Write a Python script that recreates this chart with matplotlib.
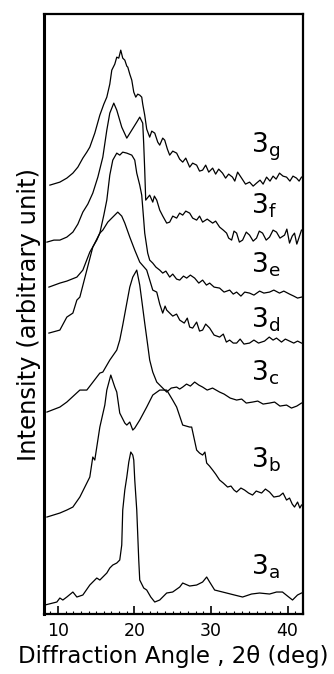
import matplotlib
matplotlib.use("Agg")
import matplotlib.pyplot as plt
from matplotlib.ticker import MultipleLocator

# diffraction angle 2theta (deg) and intensity (arbitrary, curves already stacked)
tt_g = [8.96, 10.26, 11.17, 11.96, 12.61, 13.26, 13.78, 14.17, 14.82, 15.48, 16.0, 16.39,
        16.78, 17.04, 17.43, 17.69, 17.95, 18.21, 18.47, 18.74, 19.0, 19.13, 19.39, 19.65,
        19.91, 20.17, 20.43, 20.69, 20.95, 21.08, 21.34, 21.6, 21.99, 22.26, 22.65, 23.04,
        23.3, 23.69, 23.95, 24.3, 24.6, 25.0, 25.51, 25.9, 26.3, 26.7, 27.21, 27.6,
        28.12, 28.5, 28.9, 29.3, 29.7, 30.21, 30.6, 31.0, 31.5, 31.9, 32.3, 32.8,
        33.1, 33.47, 33.99, 34.5, 35.03, 35.5, 35.94, 36.4, 36.8, 37.25, 37.7, 38.1,
        38.5, 38.94, 39.4, 39.86, 40.3, 40.7, 41.16, 41.5, 41.81]
int_g = [429, 432, 436, 441, 447, 456, 462, 467, 481, 499, 510, 517,
         530, 544, 550, 557, 556, 564, 556, 554, 548, 547, 540, 534,
         522, 517, 520, 519, 517, 510, 499, 485, 477, 483, 481, 472,
         469, 476, 474, 465, 459, 463, 461, 455, 452, 456, 447, 451,
         449, 443, 444, 449, 442, 446, 440, 445, 441, 436, 440, 437,
         433, 442, 436, 430, 432, 428, 431, 434, 430, 437, 433, 438,
         435, 441, 438, 437, 433, 438, 436, 433, 437]

tt_f = [8.57, 9.48, 10.26, 11.17, 11.96, 12.61, 13.26, 13.91, 14.56, 15.22, 15.87, 16.39,
        16.78, 17.3, 17.69, 18.34, 19.0, 19.65, 20.3, 20.69, 21.08, 21.21, 21.34, 21.47,
        21.99, 22.39, 22.6, 22.91, 23.3, 23.7, 24.21, 24.6, 25.0, 25.51, 25.9, 26.3,
        26.7, 27.21, 27.6, 28.12, 28.5, 28.9, 29.5, 30.21, 30.6, 31.12, 31.6, 32.03,
        32.3, 32.69, 33.0, 33.34, 33.7, 34.12, 34.6, 35.03, 35.5, 35.94, 36.3, 36.73,
        37.2, 37.64, 38.1, 38.55, 39.0, 39.6, 39.9, 40.25, 40.6, 40.9, 41.2, 41.42, 41.81]
int_f = [372, 374, 374, 377, 382, 390, 402, 410, 421, 437, 457, 484,
         501, 511, 504, 487, 476, 484, 492, 497, 491, 470, 444, 414,
         419, 412, 418, 414, 404, 398, 391, 392, 398, 396, 401, 399,
         403, 401, 396, 394, 398, 392, 395, 391, 393, 387, 384, 381,
         376, 374, 383, 381, 372, 374, 382, 379, 373, 376, 383, 381,
         374, 377, 384, 382, 376, 379, 385, 371, 378, 381, 370, 375, 384]

tt_e = [8.83, 10.26, 11.17, 12.48, 13.26, 14.17, 15.08, 15.48, 16.0, 16.39, 16.78, 17.17,
        17.69, 18.08, 18.47, 19.0, 19.65, 20.04, 20.3, 20.69, 20.95, 21.21, 21.34, 21.73,
        21.99, 22.39, 22.8, 23.3, 23.69, 24.1, 24.6, 25.0, 25.5, 25.91, 26.4, 26.82,
        27.3, 27.86, 28.4, 28.9, 29.4, 29.82, 30.4, 31.12, 31.7, 32.43, 32.9, 33.34,
        33.9, 34.4, 35.03, 35.6, 36.34, 36.9, 37.64, 38.2, 38.94, 39.5, 40.25, 40.8,
        41.3, 41.81]
int_e = [327, 331, 333, 337, 344, 362, 374, 381, 399, 414, 439, 454,
         461, 459, 462, 461, 459, 454, 441, 429, 419, 394, 381, 361,
         354, 351, 347, 344, 341, 343, 337, 340, 335, 334, 338, 336,
         339, 336, 331, 334, 329, 331, 327, 326, 322, 324, 320, 322,
         318, 322, 321, 319, 323, 321, 322, 324, 321, 323, 320, 318,
         316, 317]

tt_d = [8.83, 10.26, 11.17, 11.96, 12.48, 12.87, 13.78, 14.56, 15.48, 15.87, 16.52, 17.17,
        17.82, 18.34, 18.74, 19.39, 20.04, 20.69, 21.6, 22.39, 22.91, 23.3, 23.69, 24.0,
        24.21, 24.6, 25.0, 25.5, 25.91, 26.5, 26.9, 27.21, 27.6, 28.12, 28.5, 28.9,
        29.3, 29.82, 30.4, 31.12, 31.6, 32.0, 32.43, 32.9, 33.34, 33.8, 34.3, 35.03,
        35.6, 36.2, 36.99, 37.6, 38.1, 38.55, 39.2, 39.7, 40.25, 40.8, 41.3, 41.81]
int_d = [281, 284, 297, 301, 314, 317, 344, 367, 381, 384, 392, 397,
         402, 398, 391, 377, 364, 352, 344, 324, 322, 310, 301, 308,
         304, 301, 298, 300, 294, 291, 296, 287, 286, 292, 283, 284,
         290, 286, 279, 277, 280, 272, 274, 271, 271, 275, 270, 271,
         274, 271, 273, 277, 274, 276, 272, 275, 273, 271, 273, 271]

tt_c = [8.57, 10.26, 11.17, 12.87, 13.78, 15.48, 15.87, 16.78, 17.69, 18.08, 18.47, 19.0,
        19.39, 19.78, 20.3, 20.69, 20.95, 21.34, 21.73, 21.99, 22.39, 22.91, 24.21, 24.8,
        25.51, 25.9, 26.3, 26.8, 27.3, 27.86, 28.4, 28.9, 29.5, 30.2, 31.12, 31.7,
        32.5, 33.34, 34.0, 34.6, 35.42, 36.1, 36.8, 37.64, 38.3, 39.0, 39.86, 40.5,
        41.2, 41.81]
int_c = [202, 207, 212, 224, 224, 241, 242, 254, 264, 274, 289, 311,
         327, 337, 344, 329, 314, 291, 269, 254, 242, 232, 222, 226,
         227, 225, 227, 230, 228, 232, 229, 227, 224, 226, 222, 220,
         216, 214, 215, 211, 212, 213, 210, 211, 212, 208, 209, 206,
         208, 211]

tt_b = [8.57, 10.26, 11.17, 11.96, 12.87, 13.13, 13.78, 14.17, 14.56, 14.82, 15.48, 16.13,
        16.39, 16.91, 17.43, 17.69, 18.08, 18.74, 19.0, 19.39, 19.78, 20.04, 20.69, 21.6,
        22.39, 23.3, 24.21, 24.99, 25.51, 26.3, 27.21, 27.47, 28.12, 28.5, 28.9, 29.2,
        29.43, 29.8, 30.21, 30.6, 31.12, 31.6, 32.16, 32.6, 33.0, 33.34, 33.9, 34.38,
        34.9, 35.42, 35.9, 36.6, 37.1, 37.64, 38.2, 38.94, 39.4, 39.86, 40.25, 40.6,
        40.9, 41.3, 41.6, 41.81]
int_b = [97, 101, 104, 107, 117, 121, 131, 137, 157, 154, 187, 209,
         224, 239, 227, 222, 201, 191, 189, 192, 184, 186, 194, 207,
         219, 224, 224, 214, 207, 189, 187, 187, 164, 161, 159, 162,
         151, 148, 144, 140, 134, 131, 127, 128, 124, 122, 126, 124,
         121, 119, 123, 121, 125, 122, 117, 118, 121, 114, 116, 110,
         107, 112, 106, 109]

tt_a = [8.31, 9.87, 10.26, 10.65, 11.17, 11.96, 12.48, 13.26, 14.17, 15.08, 15.48, 16.39,
        16.78, 17.17, 17.69, 18.08, 18.34, 18.47, 18.74, 19.0, 19.26, 19.52, 19.78, 19.91,
        20.04, 20.3, 20.56, 20.69, 21.21, 21.6, 22.13, 22.65, 23.3, 24.21, 24.99, 25.91,
        26.3, 27.21, 28.12, 28.9, 29.43, 29.82, 30.47, 32.03, 33.06, 34.12, 35.29, 36.34,
        37.64, 38.55, 39.33, 39.98, 40.64, 41.29, 41.81]
int_a = [9, 12, 16, 14, 17, 22, 17, 19, 29, 36, 34, 41,
         46, 49, 51, 54, 69, 104, 124, 137, 152, 162, 159, 154,
         134, 104, 54, 34, 26, 24, 17, 12, 14, 21, 22, 27,
         31, 28, 29, 32, 37, 32, 24, 21, 19, 17, 20, 21,
         20, 22, 22, 18, 14, 19, 21]

curves = [(tt_a, int_a), (tt_b, int_b), (tt_c, int_c), (tt_d, int_d),
          (tt_e, int_e), (tt_f, int_f), (tt_g, int_g)]
labels = ['a', 'b', 'c', 'd', 'e', 'f', 'g']
label_y = [47, 154, 241, 294, 349, 408, 467]

fig = plt.figure(figsize=(3.34, 6.74), dpi=100)
ax = fig.add_axes([0.132, 0.089, 0.775, 0.890])

for tt, inten in curves:
    ax.plot(tt, inten, color='black', linewidth=0.9)

for lab, y in zip(labels, label_y):
    ax.text(35.2, y, r'$\mathregular{3_{%s}}$' % lab, fontsize=19,
            ha='left', va='center')

ax.set_xlim(8.2, 42.0)
ax.set_ylim(0, 600)
ax.set_yticks([])
ax.xaxis.set_major_locator(MultipleLocator(10))
ax.xaxis.set_minor_locator(MultipleLocator(1))
ax.tick_params(axis='x', which='major', direction='in', length=6, width=1.2,
               labelsize=12.5, pad=6, top=False)
ax.tick_params(axis='x', which='minor', direction='in', length=2, width=0.8, top=False)
for s in ax.spines.values():
    s.set_linewidth(1.6)
ax.spines['left'].set_linewidth(2.2)

ax.set_xlabel('Diffraction Angle , 2\u03b8 (deg)', fontsize=16.5, labelpad=3)
ax.set_ylabel('Intensity (arbitrary unit)', fontsize=17.5, labelpad=2)

fig.savefig('out.png', dpi=100)
